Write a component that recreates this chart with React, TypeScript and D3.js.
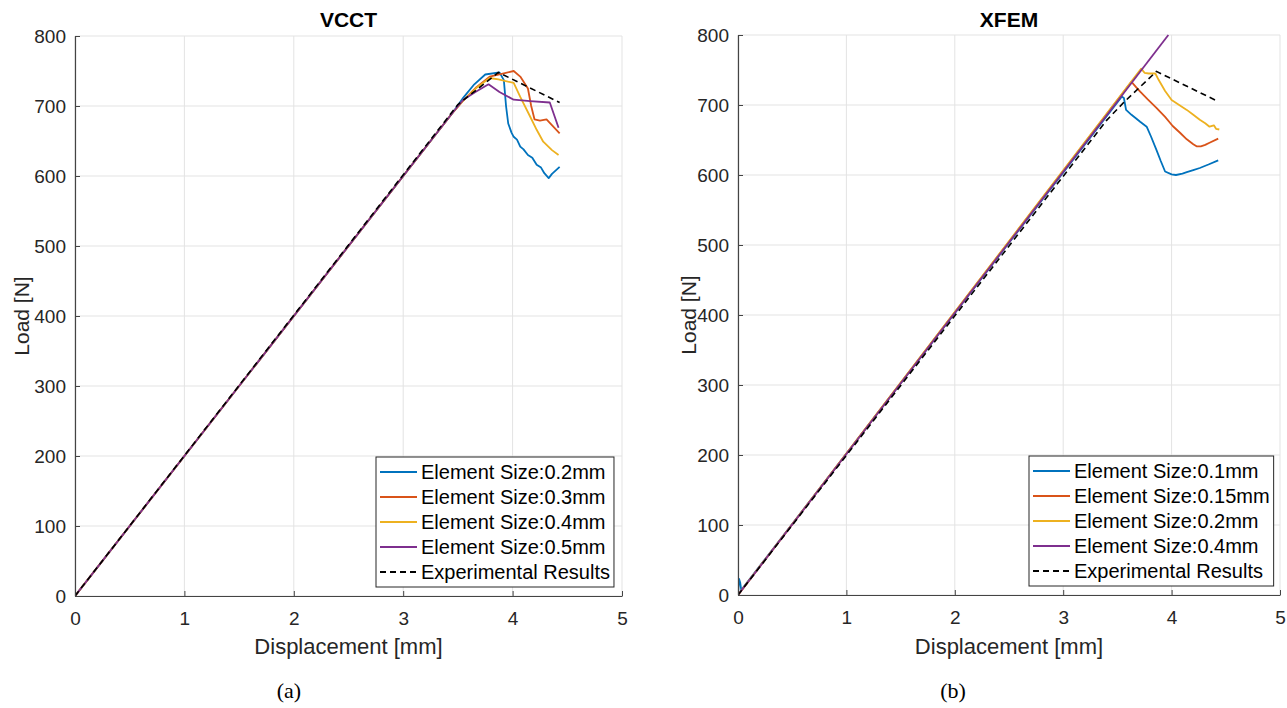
import React, { useEffect, useRef } from 'react';
import * as d3 from 'd3';

type Pt = [number, number];

const xTicks = [0, 1, 2, 3, 4, 5];
const yTicks = [0, 100, 200, 300, 400, 500, 600, 700, 800];

// VCCT (a)
const vcctLabels = ['Element Size:0.2mm', 'Element Size:0.3mm', 'Element Size:0.4mm', 'Element Size:0.5mm', 'Experimental Results'];
const vcct02: Pt[] = [[0, 0], [3.45, 690], [3.55, 712], [3.65, 731], [3.75, 745], [3.88, 748], [3.92, 737], [3.94, 700], [3.96, 675], [3.99, 662], [4.01, 656], [4.04, 652], [4.07, 642], [4.1, 638], [4.14, 630], [4.18, 626], [4.22, 616], [4.26, 612], [4.29, 604], [4.33, 597], [4.36, 603], [4.43, 613]];
const vcct03: Pt[] = [[0, 0], [3.45, 690], [3.55, 708], [3.67, 727], [3.79, 742], [3.9, 746], [4.01, 750], [4.07, 742], [4.14, 725], [4.17, 700], [4.2, 681], [4.25, 679], [4.31, 681], [4.37, 671], [4.43, 661]];
const vcct04: Pt[] = [[0, 0], [3.45, 690], [3.55, 708], [3.67, 726], [3.79, 740], [3.87, 738], [4.01, 733], [4.07, 713], [4.16, 685], [4.22, 666], [4.28, 649], [4.36, 637], [4.42, 630]];
const vcct05: Pt[] = [[0, 0], [3.45, 690], [3.55, 709], [3.66, 720], [3.78, 731], [3.88, 720], [4.01, 709], [4.16, 707], [4.34, 705], [4.42, 669]];
const vcctExp: Pt[] = [[0, 0], [3.5, 702], [3.87, 748], [4.43, 705]];

// XFEM (b)
const xfemLabels = ['Element Size:0.1mm', 'Element Size:0.15mm', 'Element Size:0.2mm', 'Element Size:0.4mm', 'Experimental Results'];
const xfem01: Pt[] = [[0, 0], [0.01, 23], [0.02, 18], [0.03, 7], [3.54, 712], [3.56, 710], [3.58, 693], [3.63, 686], [3.67, 681], [3.71, 676], [3.77, 669], [3.81, 655], [3.86, 636], [3.9, 620], [3.94, 605], [4.0, 601], [4.04, 600], [4.1, 602], [4.14, 604], [4.2, 607], [4.26, 610], [4.34, 615], [4.43, 621]];
const xfem015: Pt[] = [[0, 0], [3.63, 733], [3.67, 726], [3.71, 719], [3.78, 708], [3.86, 696], [3.94, 683], [4.01, 670], [4.08, 660], [4.14, 651], [4.2, 644], [4.23, 641], [4.27, 641], [4.31, 643], [4.35, 646], [4.43, 652]];
const xfem02: Pt[] = [[0, 0], [3.72, 752], [3.75, 746], [3.79, 745], [3.85, 745], [3.88, 736], [3.94, 720], [4.0, 707], [4.07, 700], [4.14, 693], [4.2, 686], [4.26, 679], [4.31, 674], [4.35, 669], [4.39, 671], [4.41, 666], [4.44, 665]];
const xfem04: Pt[] = [[0, 0], [3.97, 800]];
const xfemExp: Pt[] = [[0, 0], [3.4, 678], [3.56, 704], [3.86, 748], [4.43, 705]];

const colors = ['#0072BD', '#D95319', '#EDB120', '#7E2F8E', '#000000'];

const FONT = '"Liberation Sans", Arial, Helvetica, sans-serif';

const panels = [
  {
    title: 'VCCT',
    caption: '(a)',
    captionX: 289,
    left: 75, right: 622, top: 36, bottom: 596,
    yLabelOffset: 46,
    legendX: 376, legendY: 457,
    labels: vcctLabels,
    series: [vcct02, vcct03, vcct04, vcct05, vcctExp],
  },
  {
    title: 'XFEM',
    caption: '(b)',
    captionX: 953,
    left: 738, right: 1280, top: 35, bottom: 595,
    yLabelOffset: 42,
    legendX: 1029, legendY: 456,
    labels: xfemLabels,
    series: [xfem01, xfem015, xfem02, xfem04, xfemExp],
  },
];

function drawPanel(svg: d3.Selection<SVGSVGElement, unknown, null, undefined>, p: typeof panels[0], idx: number) {
  const x = d3.scaleLinear().domain([0, 5]).range([p.left, p.right]);
  const y = d3.scaleLinear().domain([0, 800]).range([p.bottom, p.top]);
  const g = svg.append('g');

  // grid
  g.append('g').selectAll('line').data(xTicks).enter().append('line')
    .attr('x1', d => x(d)).attr('x2', d => x(d))
    .attr('y1', p.top).attr('y2', p.bottom)
    .attr('stroke', '#e3e3e3').attr('stroke-width', 1);
  g.append('g').selectAll('line').data(yTicks).enter().append('line')
    .attr('x1', p.left).attr('x2', p.right)
    .attr('y1', d => y(d)).attr('y2', d => y(d))
    .attr('stroke', '#e3e3e3').attr('stroke-width', 1);

  // lines
  const clipId = 'clip' + idx;
  svg.append('defs').append('clipPath').attr('id', clipId)
    .append('rect').attr('x', p.left).attr('y', p.top - 1)
    .attr('width', p.right - p.left).attr('height', p.bottom - p.top + 1);

  const line = d3.line<Pt>().x(d => x(d[0])).y(d => y(d[1]));
  const lg = g.append('g').attr('clip-path', `url(#${clipId})`);
  p.series.forEach((s, i) => {
    lg.append('path')
      .datum(s)
      .attr('d', line)
      .attr('fill', 'none')
      .attr('stroke', colors[i])
      .attr('stroke-width', i === 4 ? 1.6 : 1.8)
      .attr('stroke-linejoin', 'round')
      .attr('stroke-dasharray', i === 4 ? '6,4' : null);
  });

  // axes
  const xAxis = d3.axisBottom(x).tickValues(xTicks).tickFormat(d3.format('d'))
    .tickSizeInner(-5).tickSizeOuter(0).tickPadding(16);
  const yAxis = d3.axisLeft(y).tickValues(yTicks).tickFormat(d3.format('d'))
    .tickSizeInner(-5).tickSizeOuter(0).tickPadding(9);

  const gx = g.append('g').attr('transform', `translate(0,${p.bottom})`).call(xAxis);
  const gy = g.append('g').attr('transform', `translate(${p.left},0)`).call(yAxis);
  [gx, gy].forEach(a => {
    a.select('.domain').attr('stroke', '#444').attr('stroke-width', 1.2);
    a.selectAll('.tick line').attr('stroke', '#444');
    a.selectAll('.tick text')
      .attr('fill', '#262626')
      .style('font-family', FONT)
      .style('font-size', '19px');
  });

  // title and labels
  g.append('text')
    .attr('x', (p.left + p.right) / 2).attr('y', 27)
    .attr('text-anchor', 'middle')
    .style('font-family', FONT).style('font-size', '21px').style('font-weight', 'bold')
    .attr('fill', '#000')
    .text(p.title);
  g.append('text')
    .attr('x', (p.left + p.right) / 2).attr('y', 654)
    .attr('text-anchor', 'middle')
    .style('font-family', FONT).style('font-size', '22px')
    .attr('fill', '#262626')
    .text('Displacement [mm]');
  g.append('text')
    .attr('transform', `translate(${p.left - p.yLabelOffset},${(p.top + p.bottom) / 2}) rotate(-90)`)
    .attr('text-anchor', 'middle')
    .style('font-family', FONT).style('font-size', '21px')
    .attr('fill', '#262626')
    .text('Load [N]');
  g.append('text')
    .attr('x', p.captionX).attr('y', 698)
    .attr('text-anchor', 'middle')
    .style('font-family', '"Liberation Serif", "Times New Roman", serif').style('font-size', '22px')
    .attr('fill', '#000')
    .text(p.caption);

  // legend
  const rowH = 25;
  const leg = g.append('g').attr('transform', `translate(${p.legendX},${p.legendY})`);
  const box = leg.append('rect')
    .attr('fill', '#fff').attr('stroke', '#262626').attr('stroke-width', 1);
  let maxW = 0;
  p.labels.forEach((lab, i) => {
    const cy = 15 + i * rowH;
    leg.append('line')
      .attr('x1', 4).attr('x2', 41).attr('y1', cy).attr('y2', cy)
      .attr('stroke', colors[i]).attr('stroke-width', 1.8)
      .attr('stroke-dasharray', i === 4 ? '6,4' : null);
    const t = leg.append('text')
      .attr('x', 45).attr('y', cy).attr('dy', '0.35em')
      .style('font-family', FONT).style('font-size', '20px')
      .attr('fill', '#000')
      .text(lab);
    const w = (t.node() as SVGTextElement).getComputedTextLength();
    if (w > maxW) maxW = w;
  });
  box.attr('x', 0).attr('y', 0).attr('width', 45 + maxW + 4).attr('height', 15 + 4 * rowH + 15);
}

export default function App() {
  const ref = useRef<SVGSVGElement>(null);

  useEffect(() => {
    const svg = d3.select(ref.current!);
    svg.selectAll('*').remove();
    panels.forEach((p, i) => drawPanel(svg, p, i));
  }, []);

  return (
    <svg
      ref={ref}
      width={1287}
      height={708}
      style={{ position: 'absolute', left: 0, top: 0, background: '#fff' }}
    />
  );
}
